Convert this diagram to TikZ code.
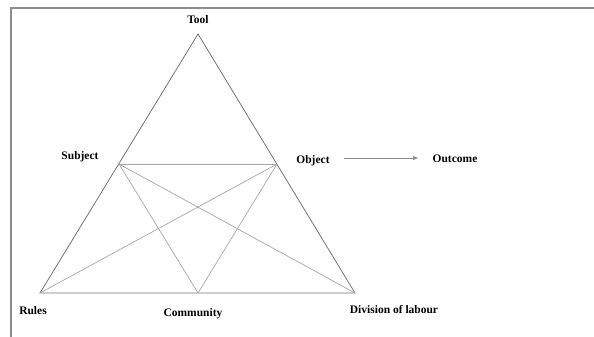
\documentclass[tikz,border=0pt]{standalone}
\usepackage{fontspec}
\setmainfont{Liberation Serif}
\usetikzlibrary{arrows.meta}
\begin{document}
\begin{tikzpicture}[x=1pt,y=-1pt,
  frame/.style={draw=black!45,line width=1.1pt},
  outer/.style={draw=black!55,line width=0.8pt},
  inner/.style={draw=black!35,line width=0.7pt},
  lbl/.style={font=\fontsize{11.5}{13}\selectfont\bfseries,inner sep=0pt},
  flow/.style={draw=black!45,line width=0.7pt,-{Triangle[length=5pt,width=4pt]}}]
\useasboundingbox (0,0) rectangle (594,337);
% page frame
\draw[frame] (11,337) -- (11,8) -- (594,8);
% corners of the triangle
\coordinate (T) at (198,34);
\coordinate (R) at (40,293);
\coordinate (D) at (355,293);
\coordinate (S) at (119,164);
\coordinate (O) at (277,164);
\coordinate (C) at (198,293);
% outer triangle
\draw[outer] (T) -- (R) -- (D) -- cycle;
% inner connections
\draw[inner] (S) -- (O);
\draw[inner] (S) -- (C);
\draw[inner] (S) -- (D);
\draw[inner] (O) -- (R);
\draw[inner] (O) -- (C);
% labels
\node[lbl] (tool) at (198,20) {Tool};
\node[lbl] (subj) at (80,157) {Subject};
\node[lbl] (obj) at (313,161) {Object};
\node[lbl] (out) at (455,159) {Outcome};
\node[lbl] (rules) at (33,311) {Rules};
\node[lbl] (comm) at (193,314) {Community};
\node[lbl] (div) at (394,310) {Division of labour};
% object to outcome
\coordinate (a1) at (344,158);
\coordinate (a2) at (418,158);
\draw[flow] (a1) -- (a2);
\end{tikzpicture}
\end{document}
